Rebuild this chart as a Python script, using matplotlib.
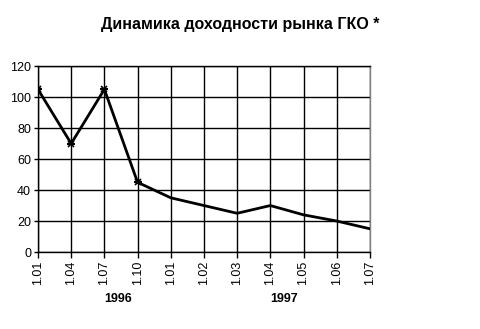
import matplotlib
matplotlib.use("Agg")
import matplotlib.pyplot as plt

labels = ['1.01', '1.04', '1.07', '1.10', '1.01', '1.02', '1.03', '1.04', '1.05', '1.06', '1.07']
values = [105, 70, 105, 45, 35, 30, 25, 30, 24, 20, 15]
years = ['1996', '1997']
year_pos = [2.4, 7.4]

plt.rcParams['font.family'] = ['Liberation Sans', 'DejaVu Sans']

fig = plt.figure(figsize=(4.81, 3.29), dpi=100)
ax = fig.add_axes([0.079, 0.234, 0.69, 0.565])

x = list(range(len(values)))
ax.plot(x, values, color='black', lw=2, zorder=3)
ax.plot(x[:4], values[:4], ls='none', marker='x', ms=4, mew=1.2, color='black', zorder=4)
ax.plot(x[:4], values[:4], ls='none', marker='_', ms=6, mew=1.5, color='black', zorder=4)

ax.set_xlim(0, len(values) - 1)
ax.set_ylim(0, 120)
ax.set_yticks(range(0, 121, 20))
ax.set_xticks(x)
ax.set_xticklabels(labels, rotation=90, fontsize=9)
ax.tick_params(axis='y', labelsize=9, length=3, width=1, pad=2)
ax.tick_params(axis='x', length=4, width=1, pad=2)
ax.grid(True, color='black', lw=1)
ax.set_axisbelow(True)
ax.spines['top'].set_color('black')
ax.spines['right'].set_color('#808080')
for s in ax.spines.values():
    s.set_linewidth(1)

for yr, p in zip(years, year_pos):
    ax.text(p, -0.255, yr, transform=ax.get_xaxis_transform(), ha='center', va='center',
            fontsize=9, fontweight='bold')

fig.text(0.5, 0.925, 'Динамика доходности рынка ГКО *', ha='center', va='center',
         fontsize=11.5, fontweight='bold')

fig.savefig('out.png', dpi=100)
